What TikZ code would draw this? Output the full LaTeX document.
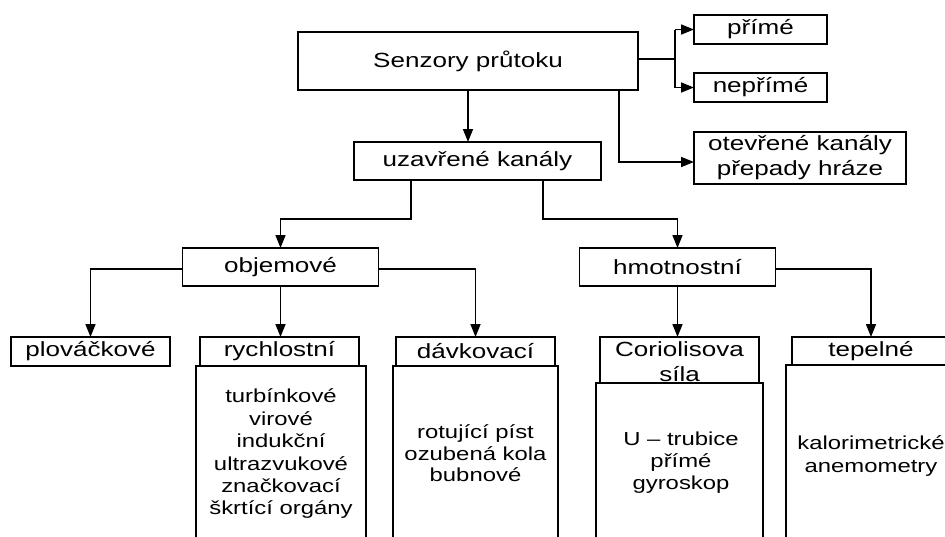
\documentclass[tikz,border=0pt]{standalone}
\usepackage{fontspec}
\setmainfont{Liberation Sans}[FakeStretch=1.27]
\usetikzlibrary{arrows.meta}
\begin{document}
\begin{tikzpicture}[x=1pt,y=-1pt,
  box/.style={draw, line width=1.6pt, inner sep=0pt, outer sep=0pt, align=center,
              font=\fontsize{20.5}{22.4}\selectfont},
  txt/.style={inner sep=0pt, align=center, font=\fontsize{18.8}{22.4}\selectfont},
  conn/.style={line width=1.6pt},
  arr/.style={conn, -{Triangle[length=13pt,width=10pt]}}]
\useasboundingbox (0,0) rectangle (945,536);
\clip (0,0) rectangle (945,536);
\fill[white] (0,0) rectangle (945,536);

% top level
\node[box, minimum width=340pt, minimum height=58pt] (senz) at (468,61) {Senzory průtoku};
\node[box, minimum width=133pt, minimum height=29pt] (prime) at (760.5,29.5) {přímé};
\node[box, minimum width=133pt, minimum height=29pt] (neprime) at (760.5,87.5) {nepřímé};
\node[box, minimum width=212pt, minimum height=52pt, font=\fontsize{20.5}{25}\selectfont] (otev) at (800,158) {otevřené kanály\\přepady hráze};
\node[box, minimum width=247pt, minimum height=38pt] (uzav) at (477.5,161) {uzavřené kanály};

% second level
\node[box, minimum width=196pt, minimum height=38pt] (objem) at (280.5,267) {objemové};
\node[box, minimum width=196pt, minimum height=38pt] (hmot) at (677.5,267) {hmotnostní};

% lower detail boxes
\node[box, minimum width=170pt, minimum height=220pt, anchor=north] (rychL) at (281,366) {};
\node[box, minimum width=165pt, minimum height=220pt, anchor=north] (davkL) at (475.5,366) {};
\node[box, minimum width=167pt, minimum height=220pt, anchor=north] (corL) at (679.5,383) {};
\node[box, minimum width=170pt, minimum height=220pt, anchor=north] (tepL) at (871,365) {};

% third level
\node[box, minimum width=159pt, minimum height=29pt] (plov) at (90.5,351.5) {plováčkové};
\node[box, minimum width=159pt, minimum height=29pt] (rych) at (279.5,351.5) {rychlostní};
\node[box, minimum width=159pt, minimum height=29pt] (davk) at (475.5,351.5) {dávkovací};
\node[box, minimum width=159pt, minimum height=46pt] (cor) at (679.5,360) {};
\node[inner sep=0pt, align=center, font=\fontsize{20.5}{25}\selectfont] (corT) at (679.5,361.5) {Coriolisova\\síla};
\node[box, minimum width=158pt, minimum height=28pt] (tep) at (871,351) {tepelné};
\draw[conn] (corL.north west) -- (corL.north east);

% texts in detail boxes
\node[txt] (rychT) at (281,454) {turbínkové\\virové\\indukční\\ultrazvukové\\značkovací\\škrtící orgány};
\node[txt, font=\fontsize{18.8}{21.5}\selectfont] (davkT) at (475.5,453.5) {rotující píst\\ozubená kola\\bubnové};
\node[txt, font=\fontsize{18.8}{22}\selectfont] (corLT) at (681,462.5) {U – trubice\\přímé\\gyroskop};
\node[txt] (tepT) at (871,456) {kalorimetrické\\anemometry};

% connectors
\draw[arr] (senz.south) -- (senz.south |- uzav.north);
\coordinate (br) at (675,59);
\draw[conn] (senz.east |- br) -- (br);
\draw[conn] (br |- prime.west) -- (br |- neprime.west);
\draw[arr] (br |- prime.west) -- (prime.west);
\draw[arr] (br |- neprime.west) -- (neprime.west);
\draw[arr] ([xshift=151pt]senz.south) |- ([yshift=-4pt]otev.west);

\coordinate (ul) at (411,219);
\coordinate (ur) at (543,219);
\draw[arr] (uzav.south -| ul) -- (ul) -| (objem.north);
\draw[arr] (uzav.south -| ur) -- (ur) -| (hmot.north);

\draw[arr] ([yshift=-2pt]objem.west) -| (plov.north);
\draw[arr] (objem.south) -- (objem.south |- rych.north);
\draw[arr] ([yshift=-2pt]objem.east) -| (davk.north);
\draw[arr] (hmot.south) -- (hmot.south |- cor.north);
\draw[arr] ([yshift=-2pt]hmot.east) -| (tep.north);
\end{tikzpicture}
\end{document}
